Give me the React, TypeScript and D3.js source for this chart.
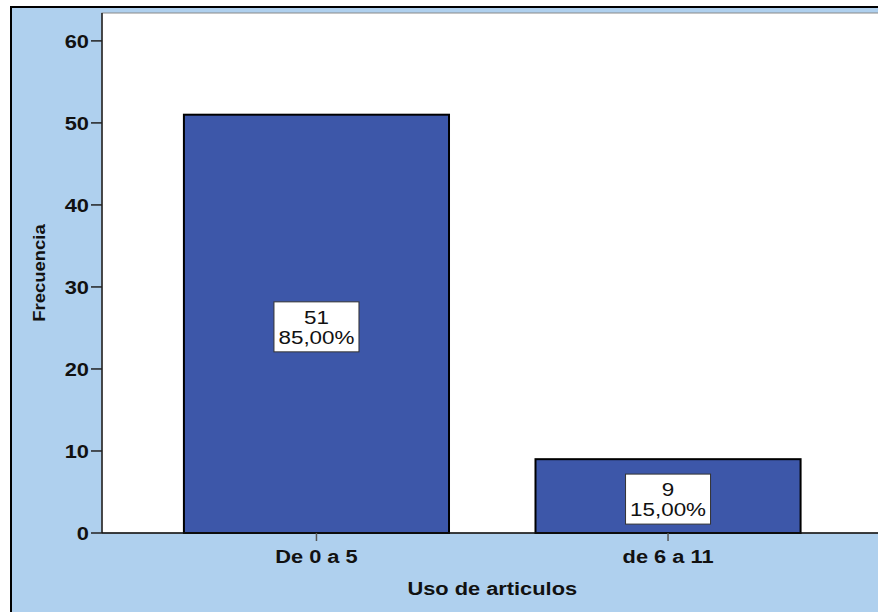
import React from "react";
import * as d3 from "d3";

// Frequency table for "Uso de articulos"
const categories: string[] = ["De 0 a 5", "de 6 a 11"];
const counts: number[] = [51, 9];
const percents: string[] = ["85,00%", "15,00%"];
const yTicks: number[] = [0, 10, 20, 30, 40, 50, 60];

const W = 878;
const H = 612;
const FONT = "'Liberation Sans', Arial, Helvetica, sans-serif";
const STRETCH = 1.18;

type STextProps = {
  x: number;
  y: number;
  anchor?: "start" | "middle" | "end";
  size: number;
  bold?: boolean;
  sx?: number;
  rotate?: number;
  children: React.ReactNode;
};

// Text drawn with a slight horizontal stretch, like the wide chart typeface
function SText({ x, y, anchor = "middle", size, bold, sx = STRETCH, rotate = 0, children }: STextProps) {
  return (
    <text
      transform={`translate(${x},${y}) rotate(${rotate}) scale(${sx},1)`}
      textAnchor={anchor}
      fontSize={size}
      fontWeight={bold ? "bold" : "normal"}
      fill="#111"
    >
      {children}
    </text>
  );
}

export default function App() {
  const plotLeft = 102;
  const plotTop = 13;
  const plotBottom = 533;
  const plotRight = 882.5;

  const y = d3.scaleLinear().domain([0, 63.4]).range([plotBottom, plotTop]);
  const x = d3
    .scaleBand<string>()
    .domain(categories)
    .range([plotLeft, plotRight])
    .paddingInner(0.246)
    .paddingOuter(0.233);

  const bw = x.bandwidth();

  return (
    <svg
      width={W}
      height={H}
      style={{ position: "absolute", left: 0, top: 0, display: "block" }}
      fontFamily={FONT}
    >
      {/* chart background and frame */}
      <rect x={0} y={0} width={W} height={H} fill="#ffffff" />
      <rect x={11} y={7} width={W} height={H} fill="#afd0ee" stroke="#000" strokeWidth={2} />

      {/* plot area */}
      <rect
        x={plotLeft}
        y={plotTop}
        width={plotRight - plotLeft}
        height={plotBottom - plotTop}
        fill="#ffffff"
        stroke="#8a8a8a"
        strokeWidth={1}
      />

      {/* bars */}
      {categories.map((c, i) => (
        <rect
          key={c}
          x={x(c)!}
          y={y(counts[i])}
          width={bw}
          height={y(0) - y(counts[i])}
          fill="#3d57a9"
          stroke="#000"
          strokeWidth={2}
        />
      ))}

      {/* y axis */}
      <line x1={plotLeft} x2={plotLeft} y1={plotTop} y2={plotBottom} stroke="#222" strokeWidth={1.5} />
      {yTicks.map((t) => (
        <g key={t}>
          <line x1={plotLeft - 11} x2={plotLeft} y1={y(t)} y2={y(t)} stroke="#222" strokeWidth={1.5} />
          <SText x={plotLeft - 13} y={y(t) + 7} anchor="end" size={18.5} bold>
            {t}
          </SText>
        </g>
      ))}

      {/* x axis */}
      <line x1={plotLeft} x2={W} y1={plotBottom} y2={plotBottom} stroke="#111" strokeWidth={1.5} />
      {categories.map((c) => {
        const cx = x(c)! + bw / 2;
        return (
          <g key={c}>
            <line x1={cx} x2={cx} y1={plotBottom} y2={plotBottom + 8} stroke="#555" strokeWidth={1.5} />
            <SText x={cx} y={563} size={18.5} bold>
              {c}
            </SText>
          </g>
        );
      })}

      {/* axis titles */}
      <SText x={(plotLeft + plotRight) / 2} y={595} size={18.5} bold>
        Uso de articulos
      </SText>
      <SText x={45} y={(plotTop + plotBottom) / 2} size={16.5} bold sx={1.12} rotate={-90}>
        Frecuencia
      </SText>

      {/* value labels */}
      {categories.map((c, i) => {
        const cx = x(c)! + bw / 2;
        const cy = (y(counts[i]) + y(0)) / 2 + 3;
        const boxW = 85;
        const boxH = 50;
        return (
          <g key={c}>
            <rect
              x={cx - boxW / 2}
              y={cy - boxH / 2}
              width={boxW}
              height={boxH}
              fill="#ffffff"
              stroke="#333"
              strokeWidth={1}
            />
            <SText x={cx} y={cy - 3} size={19}>
              {counts[i]}
            </SText>
            <SText x={cx} y={cy + 17} size={19}>
              {percents[i]}
            </SText>
          </g>
        );
      })}
    </svg>
  );
}
